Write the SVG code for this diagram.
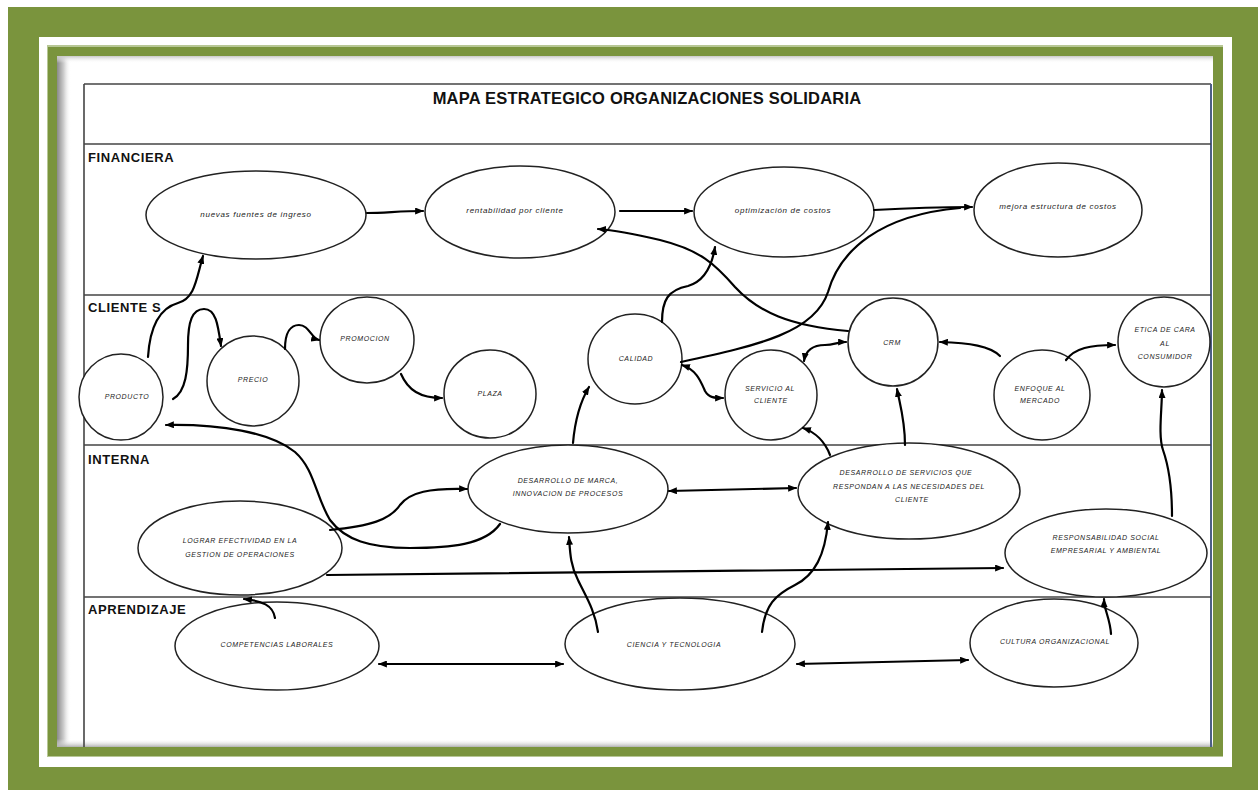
<svg xmlns="http://www.w3.org/2000/svg" width="1258" height="790" viewBox="0 0 1258 790">
  <defs>
    <style>
      .frame-dark { fill: #7a943d; }
      .frame-light { fill: #b7c795; }
      .grid { stroke: #444; stroke-width: 1.6; fill: none; }
      .node { fill: #fff; stroke: #222; stroke-width: 1.5; }
      .lbl { font-family: "Liberation Sans", Arial, sans-serif; font-style: italic; font-size: 7px; letter-spacing: 0.6px; fill: #222; text-anchor: middle; }
      .lbl-lc { font-size: 8px; letter-spacing: 0.7px; }
      .row { font-family: "Liberation Sans", Arial, sans-serif; font-weight: bold; font-size: 13px; letter-spacing: 0.6px; fill: #111; }
      .title { font-family: "Liberation Sans", Arial, sans-serif; font-weight: bold; font-size: 16.5px; letter-spacing: 0.2px; fill: #111; text-anchor: middle; }
      .edge { fill: none; stroke: #000; stroke-width: 2.2; stroke-linecap: round; }
      .one { marker-end: url(#arrow); }
      .two { marker-start: url(#arrow); marker-end: url(#arrow); }
    </style>
    <marker id="arrow" viewBox="0 0 10 8" refX="9" refY="4" markerWidth="9" markerHeight="7" markerUnits="userSpaceOnUse" orient="auto-start-reverse">
      <path d="M0,0 L10,4 L0,8 z" fill="#000"/>
    </marker>
    <linearGradient id="shadeLeft" x1="0" y1="0" x2="1" y2="0">
      <stop offset="0" stop-color="#8a8a8a"/>
      <stop offset="0.5" stop-color="#d0d0d0"/>
      <stop offset="1" stop-color="#ffffff" stop-opacity="0"/>
    </linearGradient>
    <linearGradient id="shadeBottom" x1="0" y1="0" x2="0" y2="1">
      <stop offset="0" stop-color="#ffffff" stop-opacity="0"/>
      <stop offset="1" stop-color="#b0b0b0"/>
    </linearGradient>
    <linearGradient id="shadeTop" x1="0" y1="0" x2="0" y2="1">
      <stop offset="0" stop-color="#c8c8c8"/>
      <stop offset="1" stop-color="#ffffff" stop-opacity="0"/>
    </linearGradient>
  </defs>

  <!-- page and frame -->
  <rect x="0" y="0" width="1258" height="790" fill="#fff"/>
  <rect class="frame-dark" x="8" y="7" width="1250" height="783"/>
  <rect x="39" y="37" width="1193" height="730" fill="#fff"/>
  <rect class="frame-light" x="47" y="45" width="1176" height="712"/>
  <rect class="frame-dark" x="48" y="47" width="1175" height="709"/>
  <rect x="57" y="56" width="1156" height="691" fill="#fff"/>
  <rect x="57" y="56" width="14" height="691" fill="url(#shadeLeft)"/>
  <rect x="57" y="56" width="1156" height="7" fill="url(#shadeTop)"/>
  <rect x="57" y="739" width="1156" height="8" fill="url(#shadeBottom)"/>

  <!-- table grid -->
  <g id="grid">
    <line class="grid" x1="84" y1="84" x2="1211" y2="84"/>
    <line class="grid" x1="84" y1="84" x2="84" y2="747"/>
    <line x1="1211" y1="84" x2="1211" y2="747" stroke="#4d5f86" stroke-width="2"/>
    <line class="grid" x1="84" y1="144" x2="1211" y2="144"/>
    <line class="grid" x1="84" y1="295" x2="1211" y2="295"/>
    <line class="grid" x1="84" y1="445" x2="1211" y2="445"/>
    <line class="grid" x1="84" y1="597" x2="1211" y2="597"/>
  </g>

  <text class="title" x="647" y="104">MAPA ESTRATEGICO ORGANIZACIONES SOLIDARIA</text>
  <text class="row" x="88" y="162">FINANCIERA</text>
  <text class="row" x="88" y="312">CLIENTE S</text>
  <text class="row" x="88" y="464">INTERNA</text>
  <text class="row" x="88" y="614">APRENDIZAJE</text>

  <!-- nodes: financial perspective -->
  <g id="nuevas-fuentes">
    <ellipse class="node" cx="256" cy="215" rx="110" ry="44"/>
    <text class="lbl lbl-lc" x="256" y="217">nuevas fuentes de ingreso</text>
  </g>
  <g id="rentabilidad">
    <ellipse class="node" cx="520" cy="212" rx="95" ry="46"/>
    <text class="lbl lbl-lc" x="515" y="213">rentabilidad por cliente</text>
  </g>
  <g id="optimizacion">
    <ellipse class="node" cx="784" cy="212" rx="90" ry="45"/>
    <text class="lbl lbl-lc" x="783" y="213">optimización de costos</text>
  </g>
  <g id="mejora">
    <ellipse class="node" cx="1058" cy="210" rx="84" ry="47"/>
    <text class="lbl lbl-lc" x="1058" y="209">mejora estructura de costos</text>
  </g>

  <!-- nodes: customer perspective -->
  <g id="producto">
    <ellipse class="node" cx="121" cy="397" rx="42" ry="43"/>
    <text class="lbl" x="127" y="399">PRODUCTO</text>
  </g>
  <g id="precio">
    <ellipse class="node" cx="253" cy="381" rx="46" ry="45"/>
    <text class="lbl" x="253" y="382">PRECIO</text>
  </g>
  <g id="promocion">
    <ellipse class="node" cx="367" cy="340" rx="47" ry="43"/>
    <text class="lbl" x="365" y="341">PROMOCION</text>
  </g>
  <g id="plaza">
    <ellipse class="node" cx="490" cy="394" rx="46" ry="44"/>
    <text class="lbl" x="490" y="396">PLAZA</text>
  </g>
  <g id="calidad">
    <ellipse class="node" cx="635" cy="359" rx="47" ry="45"/>
    <text class="lbl" x="636" y="361">CALIDAD</text>
  </g>
  <g id="servicio-cliente">
    <ellipse class="node" cx="771" cy="395" rx="46" ry="45"/>
    <text class="lbl" x="770" y="391">SERVICIO AL</text>
    <text class="lbl" x="771" y="403">CLIENTE</text>
  </g>
  <g id="crm">
    <ellipse class="node" cx="893" cy="342" rx="45" ry="44"/>
    <text class="lbl" x="892" y="345">CRM</text>
  </g>
  <g id="enfoque">
    <ellipse class="node" cx="1042" cy="395" rx="48" ry="45"/>
    <text class="lbl" x="1040" y="391">ENFOQUE AL</text>
    <text class="lbl" x="1040" y="403">MERCADO</text>
  </g>
  <g id="etica">
    <ellipse class="node" cx="1164" cy="342" rx="46" ry="45"/>
    <text class="lbl" x="1165" y="332">ETICA DE CARA</text>
    <text class="lbl" x="1165" y="346">AL</text>
    <text class="lbl" x="1165" y="359">CONSUMIDOR</text>
  </g>

  <!-- nodes: internal perspective -->
  <g id="lograr">
    <ellipse class="node" cx="240" cy="548" rx="102" ry="47"/>
    <text class="lbl" x="240" y="543">LOGRAR EFECTIVIDAD EN LA</text>
    <text class="lbl" x="240" y="557">GESTION DE  OPERACIONES</text>
  </g>
  <g id="desarrollo-marca">
    <ellipse class="node" cx="568" cy="489" rx="100" ry="44"/>
    <text class="lbl" x="568" y="483">DESARROLLO DE MARCA,</text>
    <text class="lbl" x="568" y="496">INNOVACION DE PROCESOS</text>
  </g>
  <g id="desarrollo-servicios">
    <ellipse class="node" cx="909" cy="491" rx="111" ry="48"/>
    <text class="lbl" x="906" y="475">DESARROLLO DE SERVICIOS  QUE</text>
    <text class="lbl" x="909" y="489">RESPONDAN  A LAS NECESIDADES DEL</text>
    <text class="lbl" x="912" y="502">CLIENTE</text>
  </g>
  <g id="responsabilidad">
    <ellipse class="node" cx="1106" cy="553" rx="101" ry="44"/>
    <text class="lbl" x="1106" y="540">RESPONSABILIDAD SOCIAL</text>
    <text class="lbl" x="1106" y="553">EMPRESARIAL  Y AMBIENTAL</text>
  </g>

  <!-- nodes: learning perspective -->
  <g id="competencias">
    <ellipse class="node" cx="277" cy="646" rx="102" ry="44"/>
    <text class="lbl" x="277" y="647">COMPETENCIAS LABORALES</text>
  </g>
  <g id="ciencia">
    <ellipse class="node" cx="680" cy="644" rx="115" ry="46"/>
    <text class="lbl" x="674" y="647">CIENCIA Y TECNOLOGIA</text>
  </g>
  <g id="cultura">
    <ellipse class="node" cx="1054" cy="643" rx="84" ry="44"/>
    <text class="lbl" x="1055" y="644">CULTURA ORGANIZACIONAL</text>
  </g>

  <!-- connectors -->
  <g id="connectors">
    <path class="edge one" d="M367,213 C385,213 400,211 423,211"/>
    <path class="edge one" d="M620,211 L692,211"/>
    <path class="edge one" d="M874,210 C910,208 940,207 972,207"/>
    <path class="edge" d="M681,362 C760,345 815,332 828,292 C840,250 880,215 960,208"/>
    <path class="edge one" d="M662,322 C662,300 668,290 688,286 C705,281 712,266 715,247"/>
    <path class="edge one" d="M848,331 C790,326 758,312 735,287 C715,264 700,250 660,240 C630,233 612,230 598,229"/>

    <path class="edge one" d="M148,357 C150,325 160,308 178,303 C195,298 196,280 203,256"/>
    <path class="edge one" d="M173,399 C186,392 188,370 188,345 C188,322 192,309 204,309 C216,309 218,325 221,346"/>
    <path class="edge one" d="M285,349 C285,332 291,325 299,325 C309,325 311,338 319,340"/>
    <path class="edge one" d="M401,374 C408,390 420,398 442,398"/>
    <path class="edge two" d="M682,365 C697,370 701,382 705,391 C709,398 715,398 723,398"/>
    <path class="edge two" d="M804,361 C806,349 815,345 825,345 C834,345 838,342 846,342"/>
    <path class="edge one" d="M1000,356 C990,346 970,343 940,342"/>
    <path class="edge one" d="M1066,360 C1075,348 1090,345 1115,345"/>

    <path class="edge one" d="M500,524 C485,545 450,548 410,548 C370,548 345,540 330,520 C315,495 315,470 295,452 C270,432 220,424 166,425"/>
    <path class="edge one" d="M330,530 C370,526 390,520 400,505 C410,492 430,488 467,489"/>
    <path class="edge one" d="M327,575 L1003,568"/>
    <path class="edge two" d="M669,491 L796,488"/>
    <path class="edge one" d="M573,443 C575,420 580,402 589,387"/>
    <path class="edge one" d="M830,455 C825,442 815,432 803,428"/>
    <path class="edge one" d="M905,445 C905,420 900,405 897,389"/>
    <path class="edge one" d="M1172,516 C1172,490 1170,470 1163,450 C1158,435 1162,410 1162,390"/>

    <path class="edge one" d="M275,618 C273,605 262,601 244,599"/>
    <path class="edge two" d="M379,664 L563,664"/>
    <path class="edge two" d="M797,664 L968,660"/>
    <path class="edge one" d="M598,632 C595,610 585,595 578,580 C570,565 570,550 569,537"/>
    <path class="edge one" d="M762,632 C765,605 775,595 795,585 C815,575 825,555 828,522"/>
    <path class="edge one" d="M1111,634 C1110,618 1104,610 1104,599"/>
  </g>
</svg>
